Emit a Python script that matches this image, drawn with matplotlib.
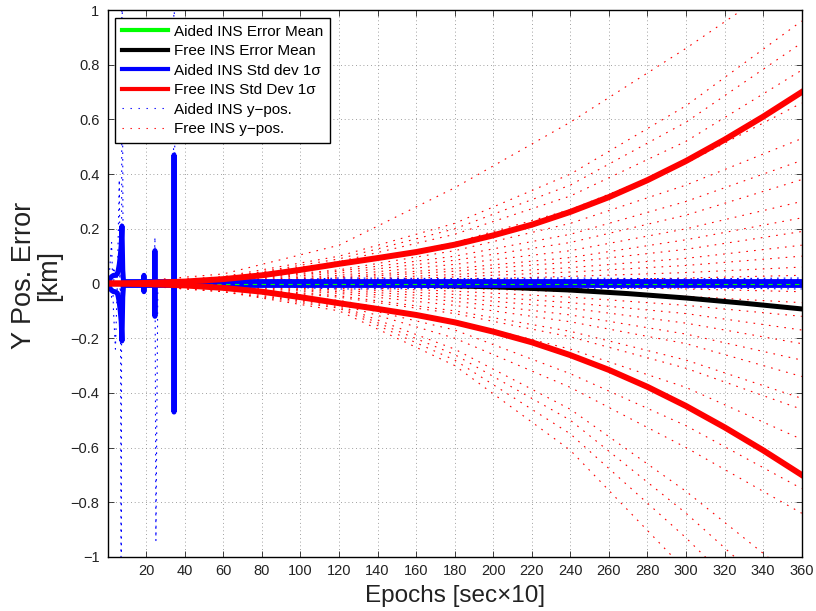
import numpy as np
import matplotlib
matplotlib.use('Agg')
import matplotlib.pyplot as plt
from matplotlib.lines import Line2D

plt.rcParams['font.family'] = ['Liberation Sans', 'DejaVu Sans']

# ---------------------------------------------------------------
# dados
# ---------------------------------------------------------------
# desvio padrao 1 sigma do INS livre
free_std_ep = [1, 20, 40, 60, 80, 100, 120, 140, 160, 180, 200, 220, 240,
               260, 280, 300, 320, 340, 360]
free_std = [0.0, 0.002, 0.007, 0.016, 0.03, 0.05, 0.072, 0.093, 0.115, 0.142,
            0.176, 0.215, 0.262, 0.316, 0.378, 0.448, 0.526, 0.61, 0.70]

# media do erro do INS livre
free_mean_ep = [1, 40, 80, 120, 160, 200, 240, 270, 300, 330, 360]
free_mean = [0.0, 0.0, 0.0, -0.002, -0.006, -0.012, -0.024, -0.037, -0.053,
             -0.072, -0.093]

# desvio padrao 1 sigma do INS auxiliado
aid_std_ep = [1, 2, 3, 4, 5, 5.5, 6, 6.5, 7, 7.4, 7.8, 8.2, 18.7, 18.8, 18.9,
              24.4, 24.5, 24.6, 34.3, 34.4, 34.5, 360]
aid_std = [0.015, 0.025, 0.03, 0.03, 0.035, 0.05, 0.07, 0.10, 0.14, 0.21, 0.05,
           0.007, 0.007, 0.03, 0.007, 0.007, 0.12, 0.007, 0.007, 0.47, 0.007,
           0.007]

# media do erro do INS auxiliado
aid_mean_ep = [1, 360]
aid_mean = [0.0, 0.0]

# trajetorias y-pos do INS auxiliado
aid_pos_ep = [1, 2, 3, 4, 5, 6, 6.6, 7, 7.4, 8, 12, 18, 18.8, 20, 24, 24.5, 25,
              26, 34, 34.4, 35, 60, 120, 180, 240, 300, 360]
aid_pos = [
    [0.01, 0.02, 0.01, 0.03, 0.02, 0.03, 0.02, -1.3, 1.3, 0.01, 0.0, 0.0, 0.01,
     0.0, 0.0, 0.01, 0.0, 0.0, 0.0, 0.01, 0.0, 0.01, 0.015, 0.01, 0.015, 0.01, 0.015],
    [0.05, 0.15, -0.1, -0.24, 0.0, 0.01, 0.0, 0.01, 0.0, 0.0, 0.01, 0.0, 0.0,
     0.0, 0.01, 0.0, 0.0, 0.01, 0.0, 0.0, 0.0, -0.01, -0.012, -0.01, -0.015, -0.01, -0.012],
    [0.0, -0.05, 0.06, 0.03, 0.0, 0.38, -0.15, 0.0, 0.0, 0.0, 0.0, 0.0, 0.0,
     0.0, 0.0, 0.0, 0.0, 0.0, 0.0, 0.0, 0.0, 0.005, 0.02, 0.018, 0.02, 0.017, 0.02],
    [0.0, 0.01, 0.0, 0.01, 0.0, 0.0, 0.0, 0.0, 0.0, 0.0, 0.0, 0.0, 0.0,
     0.0, 0.0, 0.17, -0.94, 0.0, 0.0, 0.0, 0.0, -0.005, -0.02, -0.018, -0.02, -0.016, -0.02],
    [0.0, 0.0, 0.01, 0.0, 0.0, 0.0, 0.0, 0.0, 0.0, 0.0, 0.0, 0.0, 0.0,
     0.0, 0.0, 0.0, 0.0, 0.0, 0.0, 1.3, 0.0, 0.0, 0.005, 0.004, 0.006, 0.005, 0.004],
]

# trajetorias y-pos do INS livre
free_pos_ep = [1, 60, 120, 180, 240, 300, 360]
free_pos = [
    [0, 0.035, 0.14, 0.35, 0.59, 0.86, 1.15],
    [0, 0.025, 0.10, 0.22, 0.40, 0.65, 0.96],
    [0, 0.02, 0.09, 0.20, 0.36, 0.59, 0.88],
    [0, 0.02, 0.08, 0.18, 0.32, 0.52, 0.78],
    [0, 0.015, 0.065, 0.15, 0.27, 0.44, 0.66],
    [0, 0.012, 0.05, 0.12, 0.22, 0.36, 0.53],
    [0, 0.01, 0.045, 0.10, 0.18, 0.30, 0.45],
    [0, 0.008, 0.038, 0.085, 0.15, 0.25, 0.38],
    [0, 0.007, 0.03, 0.07, 0.12, 0.20, 0.30],
    [0, 0.006, 0.024, 0.055, 0.095, 0.16, 0.24],
    [0, 0.005, 0.02, 0.045, 0.078, 0.125, 0.19],
    [0, 0.004, 0.015, 0.033, 0.058, 0.092, 0.14],
    [0, 0.003, 0.011, 0.024, 0.042, 0.066, 0.10],
    [0, 0.002, 0.007, 0.015, 0.026, 0.04, 0.06],
    [0, 0.001, 0.004, 0.008, 0.013, 0.02, 0.03],
    [0, -0.001, -0.003, -0.007, -0.012, -0.02, -0.03],
    [0, -0.002, -0.008, -0.017, -0.03, -0.047, -0.07],
    [0, -0.003, -0.013, -0.028, -0.05, -0.08, -0.12],
    [0, -0.005, -0.018, -0.04, -0.07, -0.11, -0.17],
    [0, -0.006, -0.024, -0.052, -0.09, -0.145, -0.22],
    [0, -0.008, -0.03, -0.065, -0.115, -0.185, -0.28],
    [0, -0.01, -0.036, -0.08, -0.14, -0.22, -0.34],
    [0, -0.012, -0.045, -0.10, -0.175, -0.28, -0.42],
    [0, -0.014, -0.05, -0.11, -0.195, -0.31, -0.46],
    [0, -0.016, -0.062, -0.135, -0.24, -0.38, -0.57],
    [0, -0.018, -0.07, -0.17, -0.33, -0.52, -0.75],
    [0, -0.02, -0.075, -0.20, -0.38, -0.60, -0.84],
    [0, -0.02, -0.08, -0.24, -0.46, -0.76, -1.10],
    [0, -0.025, -0.085, -0.26, -0.50, -0.84, -1.22],
    [0, -0.03, -0.09, -0.28, -0.55, -0.93, -1.35],
    [0, -0.03, -0.10, -0.30, -0.61, -1.05, -1.50],
]

x_ticks = list(range(20, 361, 20))
y_ticks = [-1, -0.8, -0.6, -0.4, -0.2, 0, 0.2, 0.4, 0.6, 0.8, 1]
y_tick_labels = ['\u22121', '\u22120.8', '\u22120.6', '\u22120.4', '\u22120.2', '0',
                 '0.2', '0.4', '0.6', '0.8', '1']

legend_labels = ['Aided INS Error Mean', 'Free INS Error Mean',
                 'Aided INS Std dev 1\u03c3', 'Free INS Std Dev 1\u03c3',
                 'Aided INS y\u2212pos.', 'Free INS y\u2212pos.']

# ---------------------------------------------------------------
# desenho
# ---------------------------------------------------------------
fig = plt.figure(figsize=(8.16, 6.11), dpi=100)
ax = fig.add_axes([0.132, 0.0884, 0.8505, 0.8952])

# trajetorias do INS livre (pontilhado vermelho)
for row in free_pos:
    ax.plot(free_pos_ep, row, color='red', linewidth=0.8, dashes=(1.5, 5.5))

# trajetorias do INS auxiliado (pontilhado azul)
for row in aid_pos:
    ax.plot(aid_pos_ep, row, color='blue', linewidth=0.8, dashes=(1.5, 4.5))

# media do INS livre
ax.plot(free_mean_ep, free_mean, color='black', linewidth=3.6)

# desvio padrao do INS auxiliado
aid_std = np.array(aid_std)
ax.plot(aid_std_ep, aid_std, color='blue', linewidth=3.6, solid_joinstyle='round',
        solid_capstyle='round')
ax.plot(aid_std_ep, -aid_std, color='blue', linewidth=3.6, solid_joinstyle='round',
        solid_capstyle='round')

# media do INS auxiliado
ax.plot(aid_mean_ep, aid_mean, color='#00ff00', linewidth=0.8, dashes=(4, 4))

# desvio padrao do INS livre
free_std = np.array(free_std)
ax.plot(free_std_ep, free_std, color='red', linewidth=4.3)
ax.plot(free_std_ep, -free_std, color='red', linewidth=4.3)

ax.set_xlim(0, 360)
ax.set_ylim(-1, 1)
ax.set_xticks(x_ticks)
ax.set_yticks(y_ticks)
ax.set_yticklabels(y_tick_labels)
ax.tick_params(direction='in', length=4, width=0.6, top=True, right=True,
               labelsize=10.5, colors='#222222')
ax.tick_params(axis='x', pad=5)
ax.tick_params(axis='y', pad=6)
for s in ax.spines.values():
    s.set_linewidth(1.0)

ax.grid(True, color='0.5', linestyle=(0, (1, 3.5)), linewidth=0.6)
ax.set_axisbelow(True)

ax.set_xlabel('Epochs [sec\u00d710]', fontsize=17.5, labelpad=5, color='#222222')
ax.set_ylabel('Y Pos. Error\n[km]', fontsize=19.5, color='#222222',
              linespacing=0.95, multialignment='center')
ax.yaxis.set_label_coords(-0.066, 0.515)

# legenda
handles = [
    Line2D([], [], color='#00ff00', linewidth=3),
    Line2D([], [], color='black', linewidth=3),
    Line2D([], [], color='blue', linewidth=3),
    Line2D([], [], color='red', linewidth=3),
    Line2D([], [], color='blue', linewidth=0.8, dashes=(1.2, 6)),
    Line2D([], [], color='red', linewidth=0.8, dashes=(1.2, 6)),
]
leg = ax.legend(handles, legend_labels, loc='upper left', fontsize=11,
                handlelength=3.0, handletextpad=0.4, labelspacing=0.36,
                borderpad=0.45, borderaxespad=0.5, fancybox=False,
                framealpha=1, edgecolor='black')
leg.get_frame().set_linewidth(1.0)

fig.savefig('out.png', dpi=100)
